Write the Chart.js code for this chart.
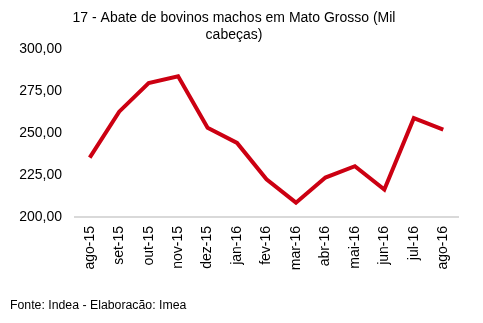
<!DOCTYPE html>
<html>
<head>
<meta charset="utf-8">
<title>Abate de bovinos machos em Mato Grosso</title>
<script src="https://cdn.jsdelivr.net/npm/chart.js@4.4.1/dist/chart.umd.min.js"></script>
<style>
  html, body { margin: 0; padding: 0; background: #fff; }
  #wrap { width: 483px; height: 323px; }
</style>
</head>
<body>
<div id="wrap"><canvas id="myChart" width="483" height="323"></canvas></div>
<script>
// dados
const months = ['ago-15', 'set-15', 'out-15', 'nov-15', 'dez-15', 'jan-16', 'fev-16',
                'mar-16', 'abr-16', 'mai-16', 'jun-16', 'jul-16', 'ago-16'];
const abate = [235.4, 262.9, 280.0, 284.0, 253.3, 244.2, 222.5,
               208.5, 223.5, 230.3, 216.3, 259.0, 252.2];
const yTicks = [200, 225, 250, 275, 300];

const fontFamily = "'Liberation Sans', Arial, Helvetica, sans-serif";

const ctx = document.getElementById('myChart');

new Chart(ctx, {
  type: 'line',
  data: {
    labels: months,
    datasets: [{
      label: 'Abate (Mil cabeças)',
      data: abate,
      borderColor: '#cc0012',
      borderWidth: 4,
      pointRadius: 0,
      tension: 0,
      fill: false
    }]
  },
  options: {
    responsive: false,
    animation: false,
    layout: {
      padding: { left: 10, right: 25, top: 0, bottom: 0 }
    },
    plugins: {
      legend: { display: false },
      tooltip: { enabled: false },
      title: {
        display: true,
        text: ['17 - Abate de bovinos machos em Mato Grosso (Mil', 'cabeças)'],
        color: '#000',
        font: { family: fontFamily, size: 14, weight: 'normal', lineHeight: 1.2 },
        padding: { top: 10, bottom: 6 }
      },
      subtitle: {
        display: true,
        position: 'bottom',
        align: 'start',
        text: 'Fonte: Indea - Elaboracão: Imea',
        color: '#000',
        font: { family: fontFamily, size: 12.3, weight: 'normal', lineHeight: 1.2 },
        padding: { top: 19, bottom: 10 }
      }
    },
    scales: {
      x: {
        offset: true,
        grid: { display: false, drawTicks: false },
        border: { display: true, color: '#d9d9d9', width: 2 },
        ticks: {
          color: '#000',
          font: { family: fontFamily, size: 14 },
          minRotation: 90,
          maxRotation: 90,
          padding: 9,
          autoSkip: false
        }
      },
      y: {
        min: 200,
        max: 300,
        afterFit: function(axis) { axis.width = 65; },
        afterBuildTicks: function(axis) {
          axis.ticks = yTicks.map(v => ({ value: v }));
        },
        grid: { display: false, drawTicks: false },
        border: { display: false },
        ticks: {
          color: '#000',
          font: { family: fontFamily, size: 14 },
          padding: 13,
          callback: function(value) {
            return value.toFixed(2).replace('.', ',');
          }
        }
      }
    }
  }
});
</script>
</body>
</html>
